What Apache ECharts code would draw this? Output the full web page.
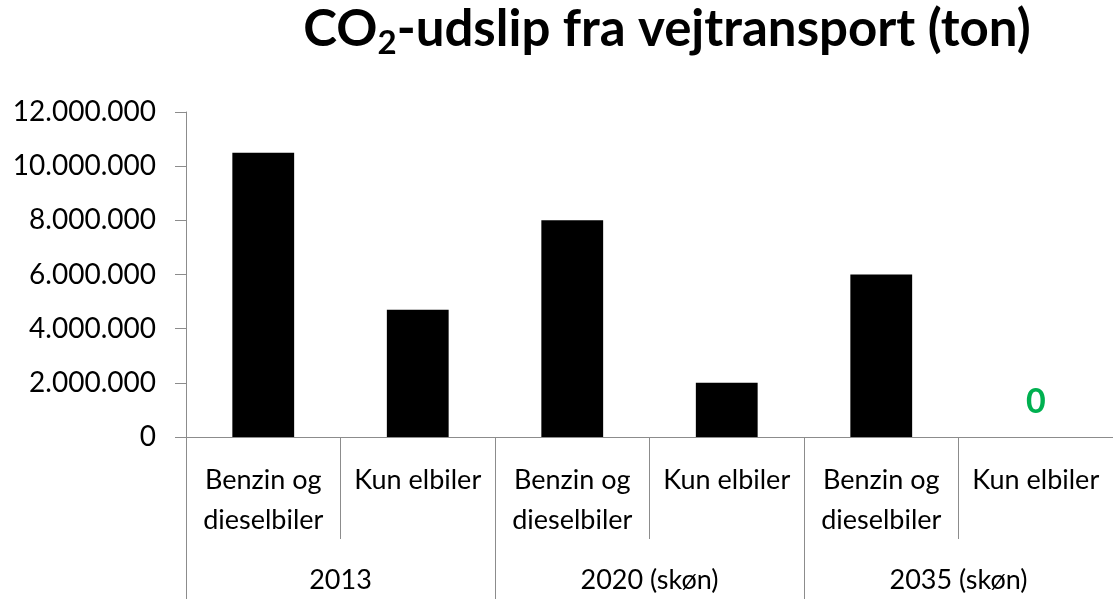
<!DOCTYPE html>
<html>
<head>
<meta charset="utf-8">
<style>
  html, body { margin: 0; padding: 0; background: #fff; }
  #co2 { width: 1113px; height: 599px; }
</style>
<script src="https://cdn.jsdelivr.net/npm/echarts@6/dist/echarts.min.js"></script>
</head>
<body>
<div id="co2"></div>
<script>
// data
var kategorier = ['Benzin og\ndieselbiler', 'Kun elbiler', 'Benzin og\ndieselbiler', 'Kun elbiler', 'Benzin og\ndieselbiler', 'Kun elbiler'];
var aar = ['2013', '2020 (skøn)', '2035 (skøn)'];
var udslip = [10500000, 4700000, 8000000, 2000000, 6000000, 0];

var fnt = 'Lato, "Noto Sans", sans-serif';
var myChart = echarts.init(document.getElementById('co2'));

// punktum som tusindtalsseparator
function tal(v) {
    return String(v).replace(/\B(?=(\d{3})+(?!\d))/g, '.');
}

var barData = udslip.map(function (v, i) {
    if (i === udslip.length - 1) {
        return {
            value: v,
            label: {
                show: true,
                position: 'top',
                distance: 18,
                color: '#00b050',
                fontWeight: 'bold',
                fontSize: 34,
                fontFamily: fnt
            }
        };
    }
    return v;
});

option = {
    animation: false,
    title: {
        text: '{a|CO}{s|2}{a|-udslip fra vejtransport (ton)}',
        left: 662,
        top: -6,
        textAlign: 'center',
        textStyle: {
            rich: {
                a: { fontSize: 51, fontWeight: 'bold', color: '#000', fontFamily: fnt },
                s: { fontSize: 33, fontWeight: 'bold', color: '#000', fontFamily: fnt, padding: [28, 0, 0, 0] }
            }
        }
    },
    grid: {
        left: 186,
        right: 0,
        top: 112,
        bottom: 162
    },
    xAxis: [
        {
            type: 'category',
            data: kategorier,
            position: 'bottom',
            axisLine: { lineStyle: { color: '#8c8c8c', width: 1 } },
            axisTick: { show: true, length: 102, lineStyle: { color: '#8c8c8c' } },
            axisLabel: {
                interval: 0,
                margin: 23,
                color: '#000',
                fontSize: 27,
                lineHeight: 40,
                fontFamily: fnt
            }
        },
        {
            type: 'category',
            data: aar,
            position: 'bottom',
            axisLine: { show: false },
            axisTick: { show: true, length: 170, lineStyle: { color: '#8c8c8c' } },
            axisLabel: {
                interval: 0,
                margin: 130,
                color: '#000',
                fontSize: 27,
                fontFamily: fnt
            }
        }
    ],
    yAxis: [
        {
            type: 'value',
            min: 0,
            max: 12000000,
            interval: 2000000,
            splitLine: { show: false },
            axisLine: { show: true, lineStyle: { color: '#8c8c8c' } },
            axisTick: { show: true, length: 11, lineStyle: { color: '#8c8c8c' } },
            axisLabel: {
                formatter: tal,
                margin: 30,
                color: '#000',
                fontSize: 28,
                fontFamily: fnt
            }
        }
    ],
    series: [
        {
            name: 'CO2',
            type: 'bar',
            xAxisIndex: 0,
            barWidth: '40%',
            itemStyle: { color: '#000' },
            data: barData
        }
    ]
};
myChart.setOption(option);
</script>
</body>
</html>
